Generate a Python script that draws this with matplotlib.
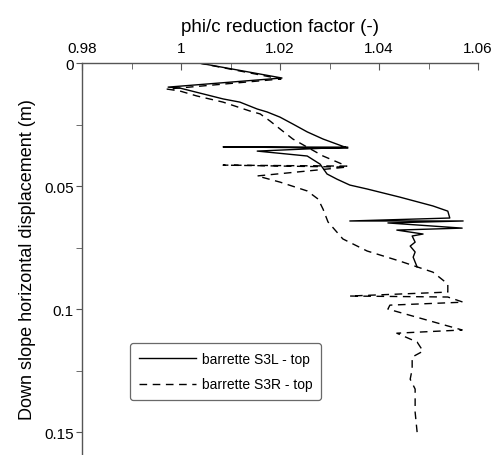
import matplotlib
matplotlib.use("Agg")
import matplotlib.pyplot as plt
from matplotlib.ticker import MultipleLocator, FuncFormatter

plt.rcParams['font.family'] = ['Liberation Sans', 'DejaVu Sans']

# barrette S3L - top (solid)
s3l_factor = [1.0036, 1.0204, 0.9974, 0.9998, 1.0085, 1.0119, 1.0154, 1.0174, 1.0200,
              1.0226, 1.0255, 1.0287, 1.0337, 1.0085, 1.0337, 1.0154, 1.0255, 1.0281,
              1.0295, 1.0315, 1.0341, 1.0376, 1.0442, 1.0509, 1.0539, 1.0543, 1.0341,
              1.0570, 1.0418, 1.0568, 1.0436, 1.0489, 1.0467, 1.0473, 1.0463, 1.0473,
              1.0469, 1.0477]
s3l_disp = [0.0, 0.0061, 0.0098, 0.0102, 0.0146, 0.0159, 0.0187, 0.0199, 0.0220,
            0.0248, 0.0280, 0.0309, 0.0346, 0.0341, 0.0342, 0.0358, 0.0378, 0.0411,
            0.0451, 0.0472, 0.0496, 0.0512, 0.0545, 0.0581, 0.0602, 0.0630, 0.0642,
            0.0642, 0.0650, 0.0671, 0.0679, 0.0695, 0.0703, 0.0728, 0.0744, 0.0768,
            0.0789, 0.0829]

# barrette S3R - top (dashed)
s3r_factor = [1.0036, 1.0202, 0.9972, 0.9998, 1.0032, 1.0085, 1.0139, 1.0160, 1.0180,
              1.0200, 1.0226, 1.0255, 1.0287, 1.0335, 1.0085, 1.0335, 1.0154, 1.0200,
              1.0255, 1.0277, 1.0287, 1.0297, 1.0327, 1.0376, 1.0442, 1.0509, 1.0539,
              1.0539, 1.0341, 1.0539, 1.0570, 1.0422, 1.0418, 1.0568, 1.0436, 1.0477,
              1.0489, 1.0467, 1.0467, 1.0463, 1.0473, 1.0473, 1.0477]
s3r_disp = [0.0, 0.0065, 0.0106, 0.0114, 0.0134, 0.0159, 0.0195, 0.0207, 0.0236,
            0.0268, 0.0309, 0.0342, 0.0378, 0.0419, 0.0415, 0.0423, 0.0459, 0.0484,
            0.0520, 0.0553, 0.0594, 0.0646, 0.0715, 0.0764, 0.0805, 0.0850, 0.0898,
            0.0931, 0.0947, 0.0951, 0.0972, 0.0984, 0.1000, 0.1085, 0.1098, 0.1134,
            0.1171, 0.1195, 0.1244, 0.1285, 0.1325, 0.1419, 0.1500]

x_ticks = [0.98, 1.00, 1.02, 1.04, 1.06]
y_ticks = [0.0, 0.05, 0.10, 0.15]

fig = plt.figure(figsize=(4.96, 4.56), dpi=100)
ax = fig.add_axes([82/496, 0.0, 396/496, 392/456])

ax.plot(s3l_factor, s3l_disp, color='black', lw=1.0, label='barrette S3L - top')
ax.plot(s3r_factor, s3r_disp, color='black', lw=1.0, linestyle=(0, (5.5, 4)),
        label='barrette S3R - top')

ax.set_xlim(0.98, 1.06)
ax.set_ylim(0.1593, 0.0)

ax.xaxis.tick_top()
ax.xaxis.set_label_position('top')
ax.set_xticks(x_ticks)
ax.xaxis.set_minor_locator(MultipleLocator(0.01))
ax.set_yticks(y_ticks)
ax.yaxis.set_minor_locator(MultipleLocator(0.025))

fmt = FuncFormatter(lambda v, p: ('%g' % round(v, 4)))
ax.xaxis.set_major_formatter(fmt)
ax.yaxis.set_major_formatter(fmt)

for s in ['right', 'bottom']:
    ax.spines[s].set_visible(False)
for s in ['left', 'top']:
    ax.spines[s].set_color('#555555')
    ax.spines[s].set_linewidth(1.0)

ax.tick_params(axis='x', which='both', direction='in', colors='#555555',
               labelcolor='black', labelsize=11, pad=6)
ax.tick_params(axis='x', which='major', length=5)
ax.tick_params(axis='x', which='minor', length=4)
ax.tick_params(axis='y', which='both', direction='out', colors='#555555',
               labelcolor='black', labelsize=11, pad=2)
ax.tick_params(axis='y', which='major', length=4)
ax.tick_params(axis='y', which='minor', length=4)

ax.set_xlabel('phi/c reduction factor (-)', fontsize=13.5, labelpad=7)
ax.set_ylabel('Down slope horizontal displacement (m)', fontsize=13, labelpad=6)

leg = ax.legend(loc='upper left', bbox_to_anchor=(0.122, 0.285), fontsize=10,
                frameon=True, fancybox=True, handlelength=4.1, handletextpad=0.45,
                borderpad=0.6, labelspacing=0.85, borderaxespad=0)
leg.get_frame().set_edgecolor('#444444')
leg.get_frame().set_linewidth(0.9)

fig.savefig('out.png', dpi=100)
